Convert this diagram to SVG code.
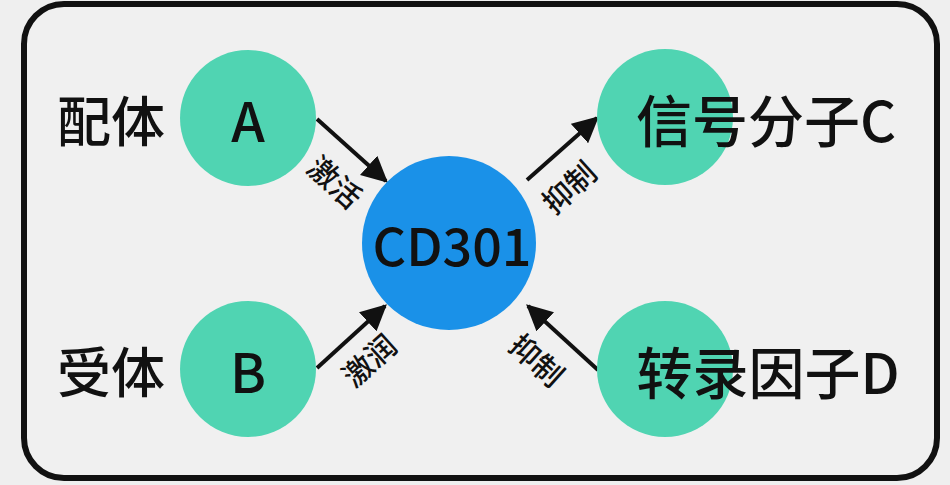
<svg xmlns="http://www.w3.org/2000/svg" width="950" height="485" viewBox="0 0 950 485">
<style>
.node{fill:#50d4b2}
.hub{fill:#1a91e8}
.big{font-family:"Noto Sans CJK SC","Noto Sans",sans-serif;font-size:54px;font-weight:500;fill:#111;text-anchor:middle;dominant-baseline:central}
.wide{font-size:56px}
.hubt{font-size:52px}
.edge{stroke:#111;stroke-width:4;fill:none;marker-end:url(#ah)}
.lbl{font-family:"Noto Sans CJK SC","Noto Sans",sans-serif;font-size:30px;font-weight:500;fill:#111;text-anchor:middle;dominant-baseline:central}
</style>
<defs>
<marker id="ah" viewBox="0 0 10 10" refX="9" refY="5" markerWidth="6.5" markerHeight="6.5" orient="auto" markerUnits="strokeWidth">
<path d="M0,0 L10,5 L0,10 Z" fill="#111"/>
</marker>
</defs>
<rect x="0" y="0" width="950" height="485" fill="#efefef"/>
<rect x="24" y="4" width="913" height="474" rx="40" ry="40" fill="#f0f0f0" stroke="#111" stroke-width="6"/>
<g id="connectors">
<line class="edge" x1="317" y1="119" x2="386" y2="181"/>
<line class="edge" x1="527" y1="180" x2="597" y2="118"/>
<line class="edge" x1="317" y1="368" x2="385" y2="306"/>
<line class="edge" x1="598" y1="370" x2="528" y2="306"/>
<text class="lbl" transform="translate(336,181) rotate(42)">激活</text>
<text class="lbl" transform="translate(568,186) rotate(-42)">抑制</text>
<text class="lbl" transform="translate(368,359) rotate(-42)">激润</text>
<text class="lbl" transform="translate(538,359) rotate(42)">抑制</text>
</g>
<g id="nodeA">
<circle class="node" cx="248" cy="118" r="68"/>
<text class="big" x="248" y="118">A</text>
<text class="big" x="111" y="118">配体</text>
</g>
<g id="nodeB">
<circle class="node" cx="248" cy="369" r="68"/>
<text class="big" x="248" y="369">B</text>
<text class="big" x="111" y="369">受体</text>
</g>
<g id="nodeC">
<circle class="node" cx="665" cy="117" r="68"/>
<text class="big wide" x="766" y="117">信号分子C</text>
</g>
<g id="nodeD">
<circle class="node" cx="665" cy="369" r="68"/>
<text class="big wide" x="768" y="369">转录因子D</text>
</g>
<g id="hub">
<circle class="hub" cx="449" cy="243" r="87"/>
<text class="big hubt" x="452" y="243">CD301</text>
</g>
</svg>
